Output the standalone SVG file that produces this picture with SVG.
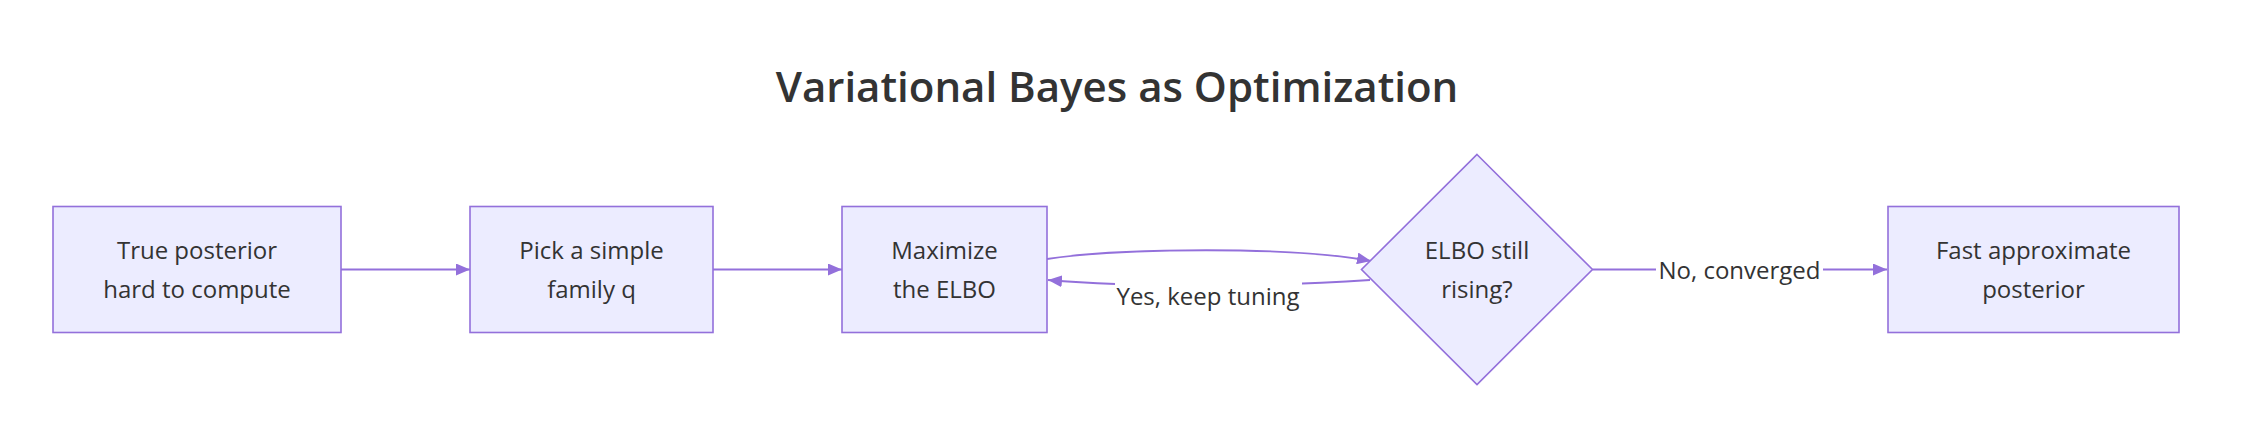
<svg xmlns="http://www.w3.org/2000/svg" width="2248" height="442" viewBox="0 0 2248 442">
<style>
.bg{fill:#ffffff}
.title{font-family:"Open Sans","Noto Sans","Liberation Sans",sans-serif;font-size:42px;font-weight:600;fill:#333333;text-anchor:middle}
.node rect,.node polygon{fill:#ECECFF;stroke:#9370DB;stroke-width:1.6}
.lbl{font-family:"Open Sans","Noto Sans","Liberation Sans",sans-serif;font-size:24px;fill:#333333;text-anchor:middle}
.edge{fill:none;stroke:#9370DB;stroke-width:1.8}
.lblbg{fill:#ffffff}
</style>
<defs>
<marker id="arrow" viewBox="0 0 14 12" refX="14" refY="6" markerWidth="14" markerHeight="12" markerUnits="userSpaceOnUse" orient="auto">
<path d="M0,0 L14,6 L0,12 z" fill="#9370DB"/>
</marker>
</defs>
<rect class="bg" x="0" y="0" width="2248" height="442"/>
<text class="title" x="1117" y="102">Variational Bayes as Optimization</text>
<g id="connectors">
<path class="edge" d="M341,269.5 L470,269.5" marker-end="url(#arrow)"/>
<path class="edge" d="M713,269.5 L842,269.5" marker-end="url(#arrow)"/>
<path class="edge" d="M1047,259 C1120,248 1290,246 1371,261" marker-end="url(#arrow)"/>
<path class="edge" d="M1370,280 C1280,286 1140,288 1048,280" marker-end="url(#arrow)"/>
<path class="edge" d="M1592.5,269.5 L1887,269.5" marker-end="url(#arrow)"/>
<rect class="lblbg" x="1115" y="280" width="187" height="34"/>
<text class="lbl" x="1208" y="305">Yes, keep tuning</text>
<rect class="lblbg" x="1656" y="252" width="167" height="34"/>
<text class="lbl" x="1739.5" y="279">No, converged</text>
</g>
<g id="n1" class="node">
<rect x="53" y="206.5" width="288" height="126"/>
<text class="lbl" x="197" y="259">True posterior</text>
<text class="lbl" x="197" y="298">hard to compute</text>
</g>
<g id="n2" class="node">
<rect x="470" y="206.5" width="243" height="126"/>
<text class="lbl" x="591.5" y="259">Pick a simple</text>
<text class="lbl" x="591.5" y="298">family q</text>
</g>
<g id="n3" class="node">
<rect x="842" y="206.5" width="205" height="126"/>
<text class="lbl" x="944.5" y="259">Maximize</text>
<text class="lbl" x="944.5" y="298">the ELBO</text>
</g>
<g id="n4" class="node">
<polygon points="1477,154.5 1592.5,269.5 1477,384.5 1361.5,269.5"/>
<text class="lbl" x="1477" y="259">ELBO still</text>
<text class="lbl" x="1477" y="298">rising?</text>
</g>
<g id="n5" class="node">
<rect x="1888" y="206.5" width="291" height="126"/>
<text class="lbl" x="2033.5" y="259">Fast approximate</text>
<text class="lbl" x="2033.5" y="298">posterior</text>
</g>
</svg>
